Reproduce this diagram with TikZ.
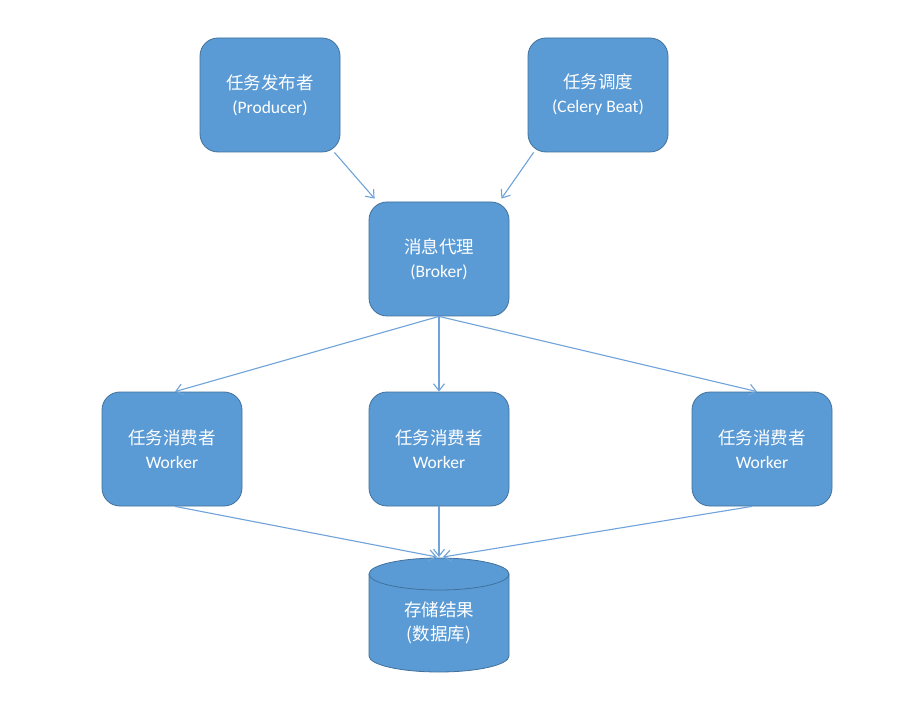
\documentclass[tikz,border=0pt]{standalone}
\usepackage{fontspec}
\setmainfont{Carlito}
\newfontfamily\cjk{Noto Sans CJK SC}
\usetikzlibrary{arrows.meta,calc}
\definecolor{boxfill}{HTML}{5B9BD5}
\definecolor{boxline}{HTML}{41719C}
\definecolor{arrowc}{HTML}{6FA3D9}
\begin{document}
\begin{tikzpicture}[x=1pt,y=-1pt,
  box/.style={draw=boxline, line width=0.8pt, fill=boxfill, rounded corners=18pt,
    minimum width=140pt, minimum height=114pt, text=white, align=center, inner sep=0pt,
    font=\fontsize{17.5}{24}\selectfont},
  conn/.style={draw=arrowc, line width=1.1pt, -{Straight Barb[length=7pt,width=11pt,line width=1.1pt]}}]
\useasboundingbox[fill=white] (0,0) rectangle (910,708);
\node[box] (prod) at (270,95) {{\cjk 任务发布者}\\(Producer)};
\node[box] (beat) at (598,95) {{\cjk 任务调度}\\(Celery Beat)};
\node[box] (broker) at (439,259) {{\cjk 消息代理}\\(Broker)};
\node[box] (w1) at (172,449) {{\cjk 任务消费者}\\Worker};
\node[box] (w2) at (439,449) {{\cjk 任务消费者}\\Worker};
\node[box] (w3) at (762,449) {{\cjk 任务消费者}\\Worker};
% database cylinder
\fill[boxfill] (369,574) -- (369,656) arc[start angle=180,end angle=360,x radius=70pt,y radius=16pt] -- (509,574) -- cycle;
\draw[boxline, line width=0.8pt] (369,574) -- (369,656) arc[start angle=180,end angle=360,x radius=70pt,y radius=16pt] -- (509,574);
\draw[boxline, line width=0.8pt, fill=boxfill] (439,574) ellipse[x radius=70pt, y radius=16pt];
\node[text=white, align=center, font=\fontsize{17.5}{24}\selectfont\cjk] (db) at (439,623) {存储结果\\(数据库)};
\coordinate (dbtop) at (439,558);
% connectors
\draw[conn] ($(prod.south east)+(-6,0)$) -- ($(broker.north west)+(6,-3)$);
\draw[conn] ($(beat.south west)+(6,0)$) -- ($(broker.north east)+(-8,-3)$);
\draw[conn] (broker.south) -- ($(w1.north)+(3,0)$);
\draw[conn] (broker.south) -- (w2.north);
\draw[conn] (broker.south) -- ($(w3.north)+(-5,0)$);
\draw[conn] ($(w1.south)+(3,0)$) -- ($(dbtop)+(-2,-1)$);
\draw[conn] (w2.south) -- ($(dbtop)+(0,-1)$);
\draw[conn] ($(w3.south)+(-10,0)$) -- ($(dbtop)+(4,-1)$);
\end{tikzpicture}
\end{document}
